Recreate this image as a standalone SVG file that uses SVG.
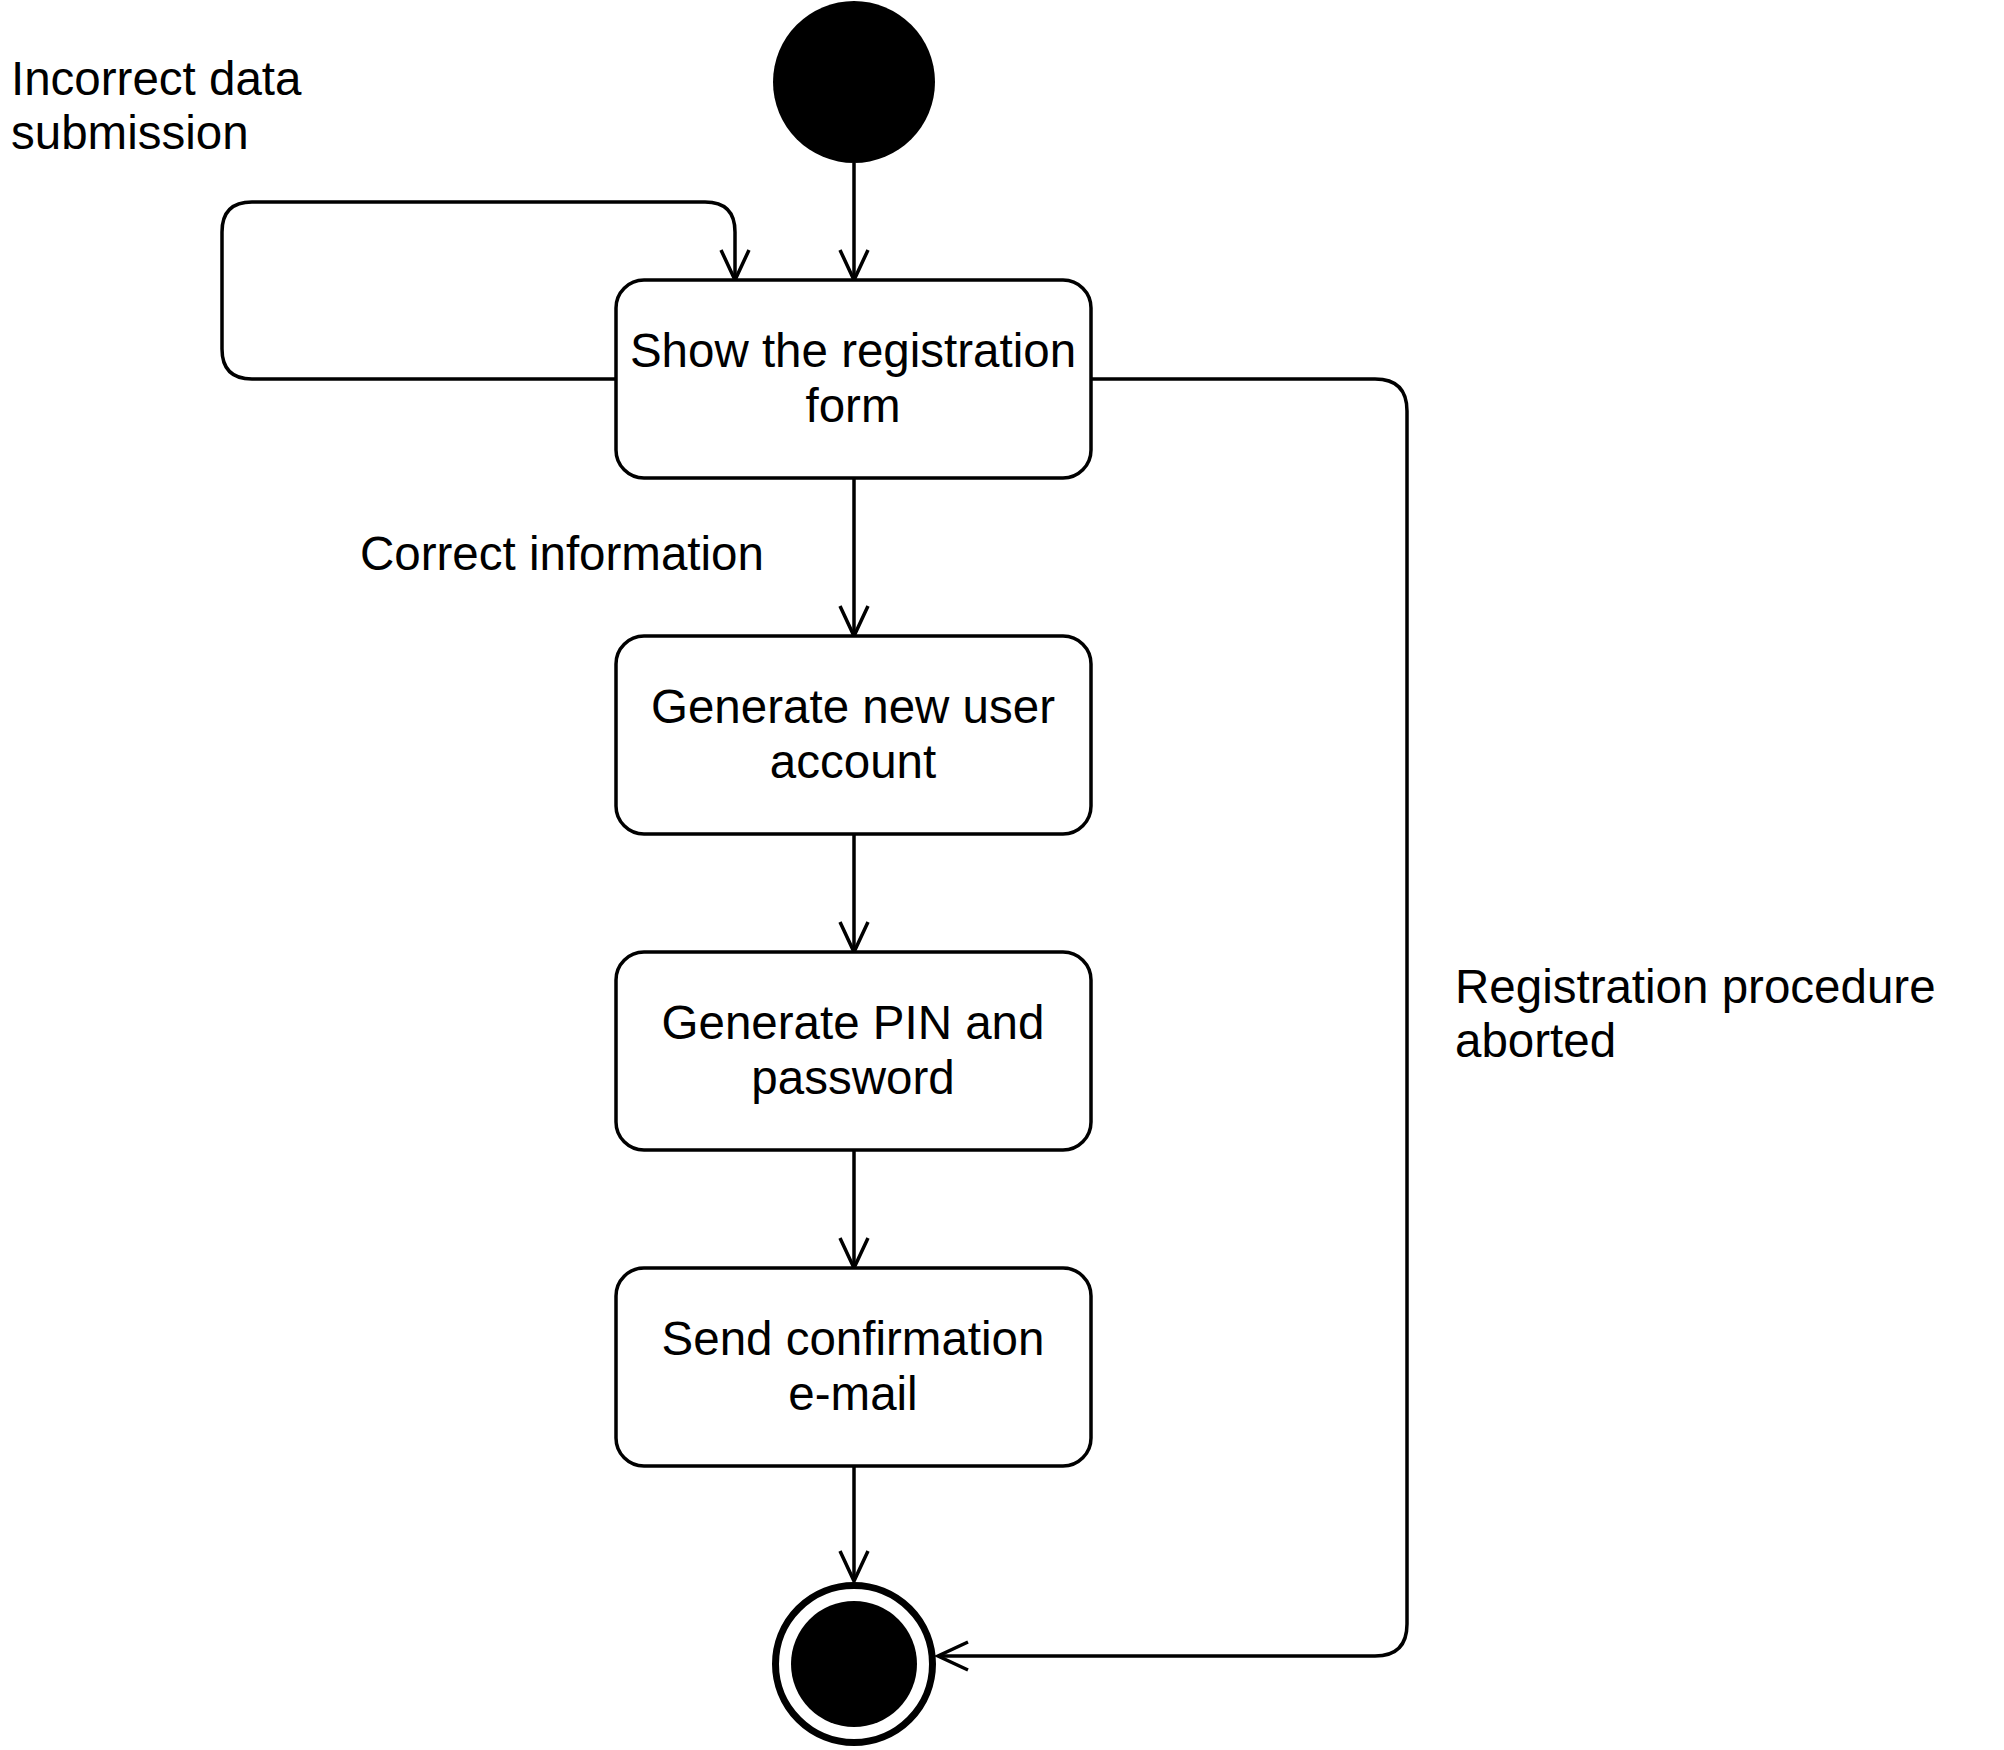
<svg xmlns="http://www.w3.org/2000/svg" width="2004" height="1750" viewBox="0 0 2004 1750">
  <style>
    .box { fill: #fff; stroke: #000; stroke-width: 3.5; }
    .lbl { font-family: "Liberation Sans", Arial, Helvetica, sans-serif; font-size: 47.5px; fill: #000; }
    .ctr { text-anchor: middle; }
    .edge { fill: none; stroke: #000; stroke-width: 3.5; }
  </style>
  <defs>
    <marker id="arr" viewBox="-36 -20 42 40" refX="0" refY="0" markerWidth="42" markerHeight="40" markerUnits="userSpaceOnUse" orient="auto">
      <path d="M-30,-14 L0,0 L-30,14" fill="none" stroke="#000" stroke-width="3.5"/>
    </marker>
  </defs>
  <rect width="2004" height="1750" fill="#fff"/>

  <g id="connectors">
    <path class="edge" d="M854,163 V280" marker-end="url(#arr)"/>
    <path class="edge" d="M854,478 V636" marker-end="url(#arr)"/>
    <path class="edge" d="M854,834 V952" marker-end="url(#arr)"/>
    <path class="edge" d="M854,1150 V1268" marker-end="url(#arr)"/>
    <path class="edge" d="M854,1466 V1581" marker-end="url(#arr)"/>
    <path class="edge" d="M616,379 H252 Q222,379 222,349 V232 Q222,202 252,202 H705 Q735,202 735,232 V280" marker-end="url(#arr)"/>
    <path class="edge" d="M1091,379 H1375 Q1407,379 1407,411 V1624 Q1407,1656 1375,1656 H938" marker-end="url(#arr)"/>
  </g>

  <g id="label-incorrect">
    <text class="lbl" x="11" y="95">Incorrect data</text>
    <text class="lbl" x="11" y="149">submission</text>
  </g>
  <g id="label-correct">
    <text class="lbl" x="360" y="570">Correct information</text>
  </g>
  <g id="label-aborted">
    <text class="lbl" x="1455" y="1003">Registration procedure</text>
    <text class="lbl" x="1455" y="1057">aborted</text>
  </g>

  <g id="start">
    <circle cx="854" cy="82" r="81" fill="#000"/>
  </g>

  <g id="show-form">
    <rect class="box" x="616" y="280" width="475" height="198" rx="28" ry="28"/>
    <text class="lbl ctr" x="853" y="367">Show the registration</text>
    <text class="lbl ctr" x="853" y="422">form</text>
  </g>

  <g id="generate-account">
    <rect class="box" x="616" y="636" width="475" height="198" rx="28" ry="28"/>
    <text class="lbl ctr" x="853" y="723">Generate new user</text>
    <text class="lbl ctr" x="853" y="778">account</text>
  </g>

  <g id="generate-pin">
    <rect class="box" x="616" y="952" width="475" height="198" rx="28" ry="28"/>
    <text class="lbl ctr" x="853" y="1039">Generate PIN and</text>
    <text class="lbl ctr" x="853" y="1094">password</text>
  </g>

  <g id="send-email">
    <rect class="box" x="616" y="1268" width="475" height="198" rx="28" ry="28"/>
    <text class="lbl ctr" x="853" y="1355">Send confirmation</text>
    <text class="lbl ctr" x="853" y="1410">e-mail</text>
  </g>

  <g id="end">
    <circle cx="854" cy="1664" r="78.5" fill="#fff" stroke="#000" stroke-width="7"/>
    <circle cx="854" cy="1664" r="63" fill="#000"/>
  </g>
</svg>
